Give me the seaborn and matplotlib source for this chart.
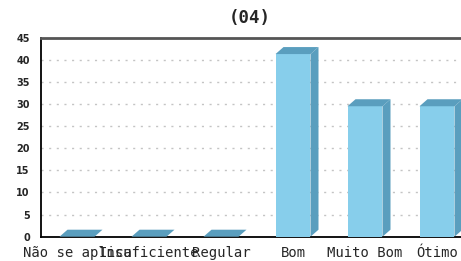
import matplotlib
matplotlib.use("Agg")
import matplotlib.pyplot as plt
from matplotlib.patches import Polygon
import pandas as pd
import seaborn as sns

categorias = ["Não se aplica", "Insuficiente", "Regular", "Bom", "Muito Bom", "Ótimo"]
respostas = [0, 0, 0, 41.3, 29.5, 29.5]
yticks = [0, 5, 10, 15, 20, 25, 30, 35, 40, 45]
titulo = "(04)"

df = pd.DataFrame({"categoria": categorias, "valor": respostas})

sns.set_style("white")
plt.rcParams["font.family"] = ["DejaVu Sans Mono", "DejaVu Sans"]

frente = "#87CEEB"
lado = "#5A9EBE"

fig = plt.figure(figsize=(4.61, 2.61), dpi=100)
# o eixo passa da borda direita (o original aparece cortado)
ax = fig.add_axes([41 / 461, 24.3 / 261, 432 / 461, 199 / 261])

sns.barplot(data=df, x="categoria", y="valor", color=frente, saturation=1,
            width=0.486, edgecolor="none", linewidth=0, ax=ax, zorder=3)

# profundidade do efeito 3D (8 px para a direita, 7 px para cima)
dx = 8 / 72
dy = 7 / (199 / 45)
for p in ax.patches[:]:
    x0 = p.get_x()
    w = p.get_width()
    h = p.get_height()
    topo = Polygon([(x0, h), (x0 + w, h), (x0 + w + dx, h + dy), (x0 + dx, h + dy)],
                   closed=True, facecolor=lado, edgecolor="none", zorder=3)
    face = Polygon([(x0 + w, 0), (x0 + w + dx, dy), (x0 + w + dx, h + dy), (x0 + w, h)],
                   closed=True, facecolor=lado, edgecolor="none", zorder=3)
    ax.add_patch(topo)
    ax.add_patch(face)

ax.set_xlim(-0.5, 5.5)
ax.set_ylim(0, 45)
ax.set_yticks(yticks)
ax.set_xlabel("")
ax.set_ylabel("")

for y in yticks[1:-1]:
    ax.axhline(y, color="#c4c4c4", linewidth=1, linestyle=(0, (1.5, 4)), zorder=1)

ax.spines["right"].set_visible(False)
ax.spines["top"].set_color("#555555")
ax.spines["top"].set_linewidth(2)
ax.spines["left"].set_color("black")
ax.spines["left"].set_linewidth(1.3)
ax.spines["bottom"].set_color("black")
ax.spines["bottom"].set_linewidth(1.3)

ax.tick_params(axis="y", direction="inout", length=8, width=1.3, color="black",
               labelsize=7, pad=4)
ax.tick_params(axis="x", length=0, labelsize=10, pad=7)
for t in ax.get_yticklabels():
    t.set_fontfamily("DejaVu Sans")
    t.set_fontweight("bold")

fig.text(250 / 461, 1 - 18 / 261, titulo, ha="center", va="center",
         fontsize=12.5, fontweight="bold")

fig.savefig("out.png", dpi=100)
